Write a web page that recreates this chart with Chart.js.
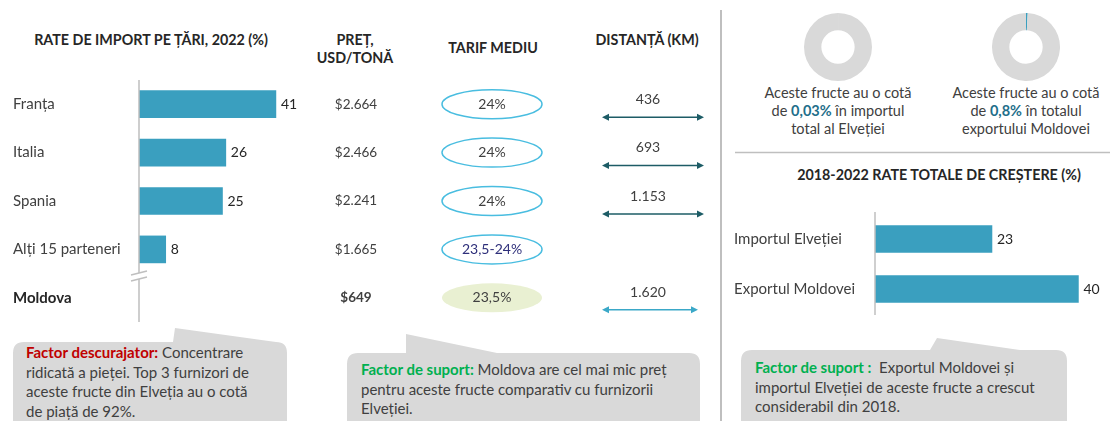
<!DOCTYPE html>
<html>
<head>
<meta charset="utf-8">
<script src="https://cdn.jsdelivr.net/npm/chart.js@4"></script>
<style>
  body { margin: 0; width: 1114px; height: 421px; overflow: hidden; background: #fff; font-family: Lato, sans-serif; color: #404040; position: relative; }
  .abs { position: absolute; }
  .title { font-weight: bold; font-size: 14.3px; color: #262626; white-space: nowrap; transform: translate(-50%, -50%); text-align: center; line-height: 18px; }
  .cap { font-size: 14.5px; line-height: 18px; text-align: center; white-space: nowrap; transform: translateX(-50%); color: #404040; }
  .cap b { color: #1f6f8b; }
  .note { font-size: 15px; line-height: 19.5px; white-space: nowrap; color: #404040; }
  .red { color: #c00000; font-weight: bold; }
  .green { color: #00b050; font-weight: bold; }
  canvas { position: absolute; }
</style>
</head>
<body>
<svg class="abs" style="left:0;top:0" width="1114" height="421" id="bg"></svg>

<div class="abs title" style="left:151px;top:40px">RATE DE IMPORT PE ȚĂRI, 2022 (%)</div>
<div class="abs title" style="left:355px;top:49px">PREȚ,<br>USD/TONĂ</div>
<div class="abs title" style="left:493px;top:48px">TARIF MEDIU</div>
<div class="abs title" style="left:647px;top:40px">DISTANȚĂ (KM)</div>
<div class="abs title" style="left:939px;top:175px">2018-2022 RATE TOTALE DE CREȘTERE (%)</div>

<div class="abs cap" style="left:838px;top:84px">Aceste fructe au o cotă<br>de <b>0,03%</b> în importul<br>total al Elveției</div>
<div class="abs cap" style="left:1026px;top:84px">Aceste fructe au o cotă<br>de <b>0,8%</b> în totalul<br>exportului Moldovei</div>

<canvas id="importChart" width="720" height="340" style="left:0;top:0"></canvas>
<canvas id="growthChart" width="392" height="170" style="left:722px;top:160px"></canvas>
<canvas id="donutSwiss" width="68" height="68" style="left:804px;top:13px"></canvas>
<canvas id="donutMoldova" width="68" height="68" style="left:992px;top:13px"></canvas>

<div class="abs note" style="left:26px;top:343px"><span class="red">Factor descurajator:</span> Concentrare<br>ridicată a pieței. Top 3 furnizori de<br>aceste fructe din Elveția au o cotă<br>de piață de 92%.</div>
<div class="abs note" style="left:361px;top:360px"><span class="green">Factor de suport:</span> Moldova are cel mai mic preț<br>pentru aceste fructe comparativ cu furnizorii<br>Elveției.</div>
<div class="abs note" style="left:755px;top:358px"><span class="green">Factor de suport :</span>&nbsp; Exportul Moldovei și<br>importul Elveției de aceste fructe a crescut<br>considerabil din 2018.</div>

<script>
const countries = ['Franța', 'Italia', 'Spania', 'Alți 15 parteneri', 'Moldova'];
const importShare = [41, 26, 25, 8, null];
const prices = ['$2.664', '$2.466', '$2.241', '$1.665', '$649'];
const tariffs = ['24%', '24%', '24%', '23,5-24%', '23,5%'];
const distances = ['436', '693', '1.153', null, '1.620'];

const growthLabels = ['Importul Elveției', 'Exportul Moldovei'];
const growthRates = [23, 40];

const shareLabels = ['Cota', 'Rest'];
const swissImportShare = [0.03, 99.97];
const moldovaExportShare = [0.8, 99.2];

const BAR = '#3a9fbf';
const GREY = '#bfbfbf';

// background shapes: dividers and callout bubbles
const svg = document.getElementById('bg');
function addPath(d, attrs) {
  const p = document.createElementNS('http://www.w3.org/2000/svg', 'path');
  p.setAttribute('d', d);
  for (const k in attrs) p.setAttribute(k, attrs[k]);
  svg.appendChild(p);
}
function bubble(x1, y1, x2, y2, r, b1, b2, ax, ay) {
  return `M${x1 + r},${y1} L${b1},${y1} L${ax},${ay} L${b2},${y1} L${x2 - r},${y1} Q${x2},${y1} ${x2},${y1 + r} L${x2},${y2} L${x1},${y2} L${x1},${y1 + r} Q${x1},${y1} ${x1 + r},${y1} Z`;
}
addPath(bubble(13, 342, 287, 440, 11, 173, 276, 175, 328), { fill: '#d9d9d9' });
addPath(bubble(347, 353, 700, 440, 11, 406, 497, 406, 334), { fill: '#d9d9d9' });
addPath(bubble(741, 350, 1067, 440, 11, 930, 1020, 937, 338), { fill: '#d9d9d9' });
addPath('M721,10 L721,421', { stroke: GREY, 'stroke-width': 2 });
addPath('M735,152.5 L1110,152.5', { stroke: GREY, 'stroke-width': 1.5 });

function arrow(ctx, x1, x2, y, color) {
  ctx.save();
  ctx.strokeStyle = color;
  ctx.fillStyle = color;
  ctx.lineWidth = 1.5;
  ctx.beginPath();
  ctx.moveTo(x1 + 3, y);
  ctx.lineTo(x2 - 3, y);
  ctx.stroke();
  ctx.beginPath();
  ctx.moveTo(x1, y); ctx.lineTo(x1 + 7, y - 3.5); ctx.lineTo(x1 + 7, y + 3.5); ctx.closePath();
  ctx.moveTo(x2, y); ctx.lineTo(x2 - 7, y - 3.5); ctx.lineTo(x2 - 7, y + 3.5); ctx.closePath();
  ctx.fill();
  ctx.restore();
}

const importTable = {
  id: 'importTable',
  afterDatasetsDraw(chart) {
    const { ctx, chartArea, scales } = chart;
    const meta = chart.getDatasetMeta(0);
    ctx.save();
    // axis with break
    ctx.strokeStyle = GREY;
    ctx.lineWidth = 1.5;
    ctx.beginPath();
    ctx.moveTo(chartArea.left, chartArea.top);
    ctx.lineTo(chartArea.left, 273);
    ctx.moveTo(chartArea.left, 279);
    ctx.lineTo(chartArea.left, chartArea.bottom);
    ctx.stroke();
    ctx.beginPath();
    ctx.moveTo(chartArea.left - 8, 275); ctx.lineTo(chartArea.left + 8, 271);
    ctx.moveTo(chartArea.left - 8, 281); ctx.lineTo(chartArea.left + 8, 277);
    ctx.stroke();

    ctx.textBaseline = 'middle';
    countries.forEach((c, i) => {
      const y = scales.y.getPixelForValue(i);
      const bold = c === 'Moldova';
      ctx.fillStyle = bold ? '#262626' : '#404040';
      ctx.font = (bold ? 'bold ' : '') + '15px Lato';
      ctx.textAlign = 'left';
      ctx.fillText(c, 13, y);
      if (importShare[i] != null) {
        ctx.fillStyle = '#262626';
        ctx.font = '14px Lato';
        ctx.fillText(importShare[i], meta.data[i].x + 5, y);
      }
      // price
      ctx.textAlign = 'center';
      ctx.fillStyle = '#404040';
      ctx.font = (bold ? 'bold ' : '') + '13.5px Lato';
      ctx.fillText(prices[i], 356, y);
      // tariff bubble
      ctx.beginPath();
      ctx.ellipse(492, y, 50, 14.5, 0, 0, Math.PI * 2);
      if (bold) {
        ctx.fillStyle = '#e9f0d2';
        ctx.fill();
      } else {
        ctx.strokeStyle = '#49bde0';
        ctx.lineWidth = 1.5;
        ctx.stroke();
      }
      ctx.fillStyle = tariffs[i].includes('-') ? '#2e2f7a' : '#404040';
      ctx.font = '14px Lato';
      ctx.fillText(tariffs[i], 492, y);
      // distance
      if (distances[i]) {
        ctx.fillStyle = '#404040';
        ctx.fillText(distances[i], 648, y - 5);
        if (bold) arrow(ctx, 602, 698, y + 12, '#3aa8c8');
        else arrow(ctx, 602, 704, y + 13, '#1d5c66');
      }
    });
    ctx.restore();
  }
};

new Chart(document.getElementById('importChart'), {
  type: 'bar',
  data: {
    labels: countries,
    datasets: [{ data: importShare, backgroundColor: BAR, barThickness: 27 }]
  },
  options: {
    indexAxis: 'y',
    responsive: false,
    animation: false,
    layout: { padding: { left: 139, top: 80, bottom: 18, right: 0 } },
    plugins: { legend: { display: false }, tooltip: { enabled: false } },
    scales: {
      x: { display: false, min: 0, max: 174 },
      y: { display: false }
    }
  },
  plugins: [importTable]
});

const growthLabelsPlugin = {
  id: 'growthLabels',
  afterDatasetsDraw(chart) {
    const { ctx, chartArea, scales } = chart;
    const meta = chart.getDatasetMeta(0);
    ctx.save();
    ctx.strokeStyle = GREY;
    ctx.lineWidth = 1.5;
    ctx.beginPath();
    ctx.moveTo(chartArea.left, chartArea.top - 2);
    ctx.lineTo(chartArea.left, chartArea.bottom + 1);
    ctx.stroke();
    ctx.textBaseline = 'middle';
    growthLabels.forEach((l, i) => {
      const y = scales.y.getPixelForValue(i);
      ctx.fillStyle = '#404040';
      ctx.textAlign = 'left';
      ctx.font = '15px Lato';
      ctx.fillText(l, 12, y);
      ctx.fillStyle = '#262626';
      ctx.font = '14px Lato';
      ctx.fillText(growthRates[i], meta.data[i].x + 5, y);
    });
    ctx.restore();
  }
};

new Chart(document.getElementById('growthChart'), {
  type: 'bar',
  data: {
    labels: growthLabels,
    datasets: [{ data: growthRates, backgroundColor: BAR, barThickness: 27 }]
  },
  options: {
    indexAxis: 'y',
    responsive: false,
    animation: false,
    layout: { padding: { left: 153, top: 54, bottom: 16, right: 0 } },
    plugins: { legend: { display: false }, tooltip: { enabled: false } },
    scales: {
      x: { display: false, min: 0, max: 47 },
      y: { display: false }
    }
  },
  plugins: [growthLabelsPlugin]
});

function donut(id, values) {
  new Chart(document.getElementById(id), {
    type: 'doughnut',
    data: {
      labels: shareLabels,
      datasets: [{ data: values, backgroundColor: [BAR, '#d9d9d9'], borderWidth: 0 }]
    },
    options: {
      responsive: false,
      animation: false,
      cutout: '49%',
      plugins: { legend: { display: false }, tooltip: { enabled: false } }
    }
  });
}
donut('donutSwiss', swissImportShare);
donut('donutMoldova', moldovaExportShare);
</script>
</body>
</html>
